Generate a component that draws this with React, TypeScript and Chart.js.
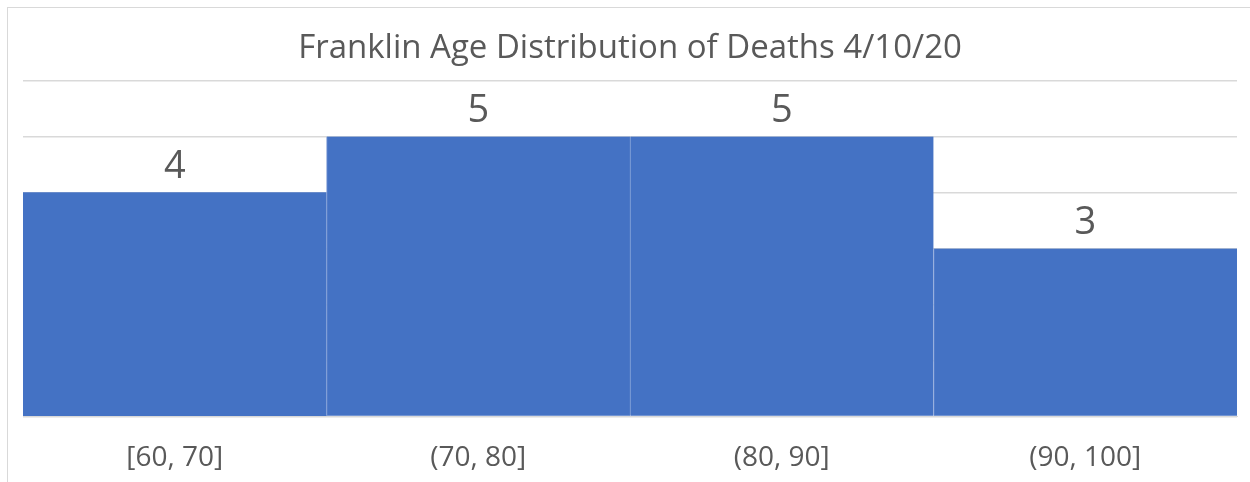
import React, { useEffect, useRef } from "react";
import { Chart, registerables } from "chart.js";

Chart.register(...registerables);

const TITLE = "Franklin Age Distribution of Deaths 4/10/20";
const CATEGORIES = ["[60, 70]", "(70, 80]", "(80, 90]", "(90, 100]"];
const DEATHS = [4, 5, 5, 3];
const Y_MAX = 6;

const FONT = "'Open Sans', sans-serif";
const TEXT = "#595959";

const valueLabels = {
  id: "valueLabels",
  afterDatasetsDraw(chart: any) {
    const { ctx } = chart;
    const meta = chart.getDatasetMeta(0);
    ctx.save();
    ctx.font = `38px ${FONT}`;
    ctx.fillStyle = TEXT;
    ctx.textAlign = "center";
    ctx.textBaseline = "middle";
    meta.data.forEach((bar: any, i: number) => {
      ctx.fillText(String(DEATHS[i]), bar.x, bar.y - 25);
    });
    ctx.restore();
  },
};

export default function App() {
  const ref = useRef<HTMLCanvasElement>(null);
  useEffect(() => {
    if (!ref.current) return;
    const chart = new Chart(ref.current, {
      type: "bar",
      data: {
        labels: CATEGORIES,
        datasets: [
          {
            data: DEATHS,
            backgroundColor: "#4472C4",
            borderColor: "#8EA9DB",
            borderWidth: (c: any) => (c.dataIndex === 0 ? 0 : { left: 1, top: 0, right: 0, bottom: 0 }),
            borderSkipped: false,
            categoryPercentage: 1,
            barPercentage: 1,
          },
        ],
      },
      options: {
        animation: false,
        responsive: false,
        maintainAspectRatio: false,
        layout: { padding: { left: 23, right: 13, top: 0, bottom: -18 } },
        plugins: {
          legend: { display: false },
          tooltip: { enabled: false },
          title: {
            display: true,
            text: TITLE,
            color: TEXT,
            font: { family: FONT, size: 33, weight: "normal" },
            padding: { top: 29, bottom: 12 },
          },
        },
        scales: {
          x: {
            grid: { display: false, drawTicks: false },
            border: { display: true, color: "#d9d9d9", width: 1 },
            ticks: {
              color: TEXT,
              font: { family: FONT, size: 28 },
              padding: 25,
              maxRotation: 0,
            },
          },
          y: {
            min: 0,
            max: Y_MAX,
            ticks: { display: false, stepSize: 1 },
            grid: { color: "#d9d9d9", lineWidth: 1.5, drawTicks: false },
            border: { display: false },
          },
        },
      },
      plugins: [valueLabels],
    });
    return () => chart.destroy();
  }, []);
  return (
    <div style={{ position: "fixed", left: 0, top: 0, width: 1250, height: 482, background: "#fff" }}>
      <div
        style={{
          position: "absolute",
          left: 7,
          top: 7,
          width: 1300,
          height: 500,
          borderLeft: "1px solid #d9d9d9",
          borderTop: "1px solid #d9d9d9",
        }}
      />
      <canvas ref={ref} width={1250} height={482} style={{ position: "absolute", left: 0, top: 0 }} />
    </div>
  );
}
